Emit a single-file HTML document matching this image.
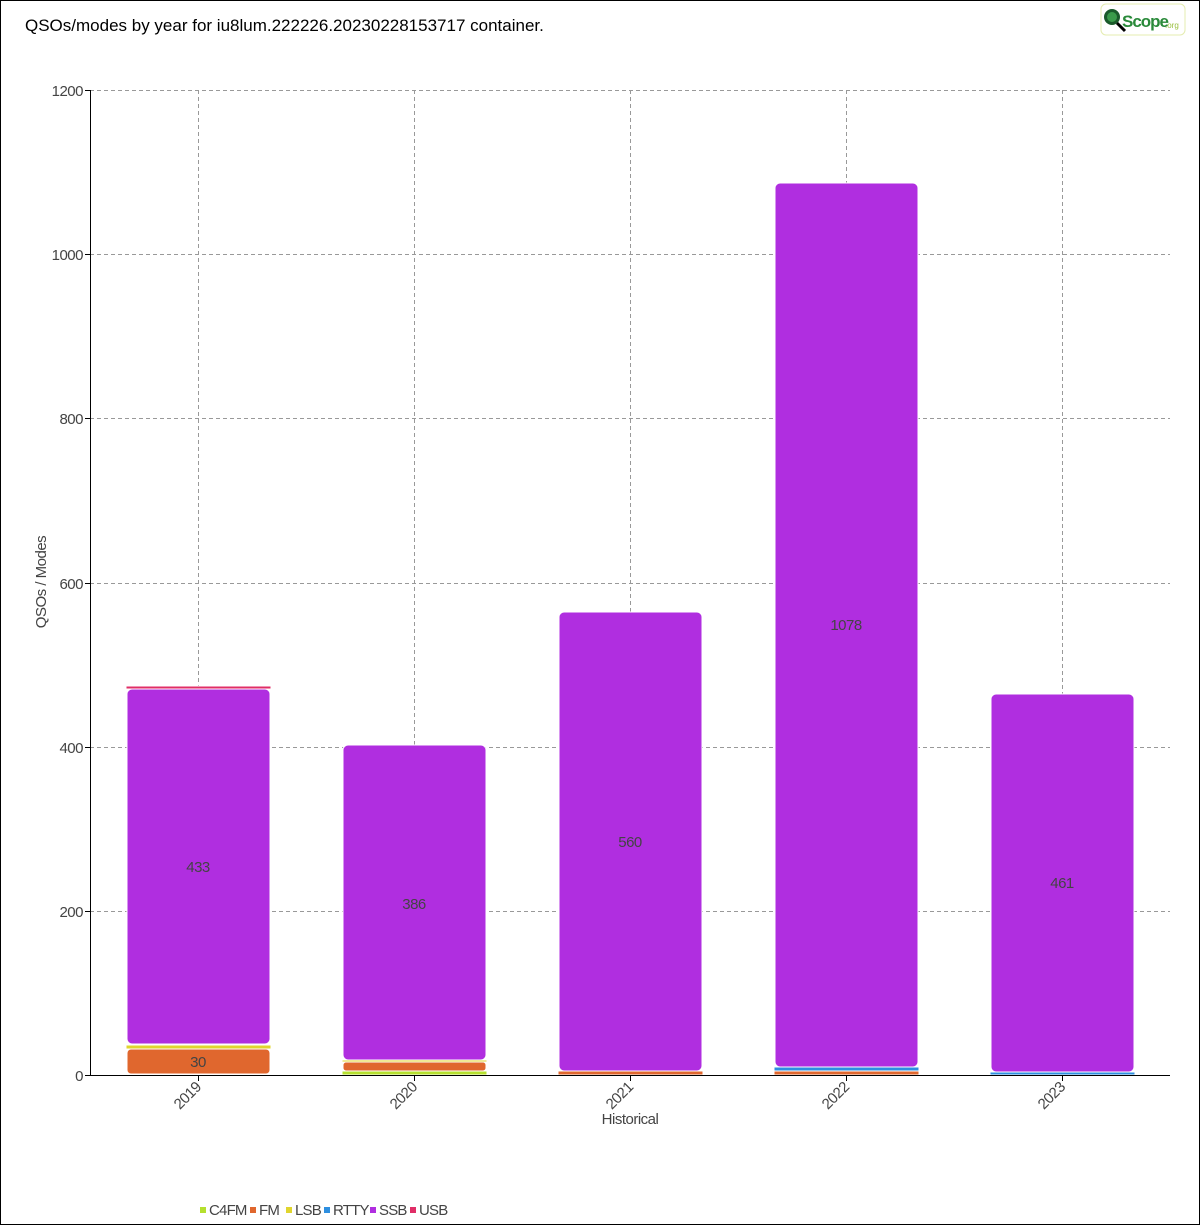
<!DOCTYPE html>
<html><head><meta charset="utf-8"><style>
html,body{margin:0;padding:0;background:#fff}
svg{display:block}
text{font-family:"Liberation Sans",sans-serif}
</style></head><body>
<svg width="1200" height="1225" viewBox="0 0 1200 1225" xmlns="http://www.w3.org/2000/svg">
<rect x="0.5" y="0.5" width="1199" height="1224" fill="#fff" stroke="#000"/>
<text x="25" y="31" font-size="17" fill="#000" letter-spacing="0">QSOs/modes by year for iu8lum.222226.20230228153717 container.</text>
<!-- logo -->
<rect x="1101" y="4" width="84" height="31" rx="5" fill="#fff" stroke="#e4ecb0"/>
<circle cx="1112" cy="17" r="8" fill="#1a5a2a"/>
<circle cx="1112" cy="17" r="5" fill="#3a9a4a"/>
<line x1="1117" y1="23" x2="1125" y2="31" stroke="#000" stroke-width="3"/>
<text x="1122" y="27" font-size="17" fill="#2a8a3a" font-weight="bold" letter-spacing="-1">Scope</text>
<text x="1165" y="28" font-size="8" fill="#9ac040">.org</text>
<!-- grid -->
<g stroke="#999" stroke-dasharray="4,3" stroke-width="1">
<line x1="90" y1="90.5" x2="1170" y2="90.5"/>
<line x1="90" y1="254.5" x2="1170" y2="254.5"/>
<line x1="90" y1="418.5" x2="1170" y2="418.5"/>
<line x1="90" y1="583.5" x2="1170" y2="583.5"/>
<line x1="90" y1="747.5" x2="1170" y2="747.5"/>
<line x1="90" y1="911.5" x2="1170" y2="911.5"/>
<line x1="198.5" y1="90" x2="198.5" y2="1075"/>
<line x1="414.5" y1="90" x2="414.5" y2="1075"/>
<line x1="630.5" y1="90" x2="630.5" y2="1075"/>
<line x1="846.5" y1="90" x2="846.5" y2="1075"/>
<line x1="1062.5" y1="90" x2="1062.5" y2="1075"/>
</g>
<!-- bars -->
<g stroke="#fff" stroke-width="1">
<rect x="127" y="1049" width="143" height="25" rx="4" fill="#e0672e"/>
<rect x="126" y="1045" width="145" height="4" fill="#e0d52e"/>
<rect x="127" y="689" width="143" height="355" rx="5" fill="#b02ee0"/>
<rect x="126" y="686" width="145" height="3" fill="#e02e67"/>
<rect x="342" y="1071" width="145" height="4" fill="#b5e02e"/>
<rect x="343" y="1062" width="143" height="9" rx="3" fill="#e0672e"/>
<rect x="342" y="1060" width="145" height="2" fill="#e0d52e"/>
<rect x="343" y="745" width="143" height="315" rx="5" fill="#b02ee0"/>
<rect x="558" y="1071" width="145" height="4" fill="#e0672e"/>
<rect x="559" y="612" width="143" height="459" rx="5" fill="#b02ee0"/>
<rect x="774" y="1071" width="145" height="4" fill="#e0672e"/>
<rect x="774" y="1067" width="145" height="4" fill="#2e8fe0"/>
<rect x="775" y="183" width="143" height="884" rx="5" fill="#b02ee0"/>
<rect x="990" y="1072" width="145" height="3" fill="#2e8fe0"/>
<rect x="991" y="694" width="143" height="378" rx="5" fill="#b02ee0"/>
</g>
<g font-size="15" fill="#444" text-anchor="middle" letter-spacing="-0.5">
<text x="198" y="1067">30</text>
<text x="198" y="872">433</text>
<text x="414" y="909">386</text>
<text x="630" y="847">560</text>
<text x="846" y="630">1078</text>
<text x="1062" y="888">461</text>
</g>
<!-- axes -->
<line x1="90.5" y1="90" x2="90.5" y2="1075" stroke="#000"/>
<line x1="85" y1="1075.5" x2="1170" y2="1075.5" stroke="#000"/>
<g stroke="#000">
<line x1="85" y1="90.5" x2="90" y2="90.5"/><line x1="85" y1="254.5" x2="90" y2="254.5"/>
<line x1="85" y1="418.5" x2="90" y2="418.5"/><line x1="85" y1="583.5" x2="90" y2="583.5"/>
<line x1="85" y1="747.5" x2="90" y2="747.5"/><line x1="85" y1="911.5" x2="90" y2="911.5"/>
<line x1="198.5" y1="1075" x2="198.5" y2="1081"/><line x1="414.5" y1="1075" x2="414.5" y2="1081"/>
<line x1="630.5" y1="1075" x2="630.5" y2="1081"/><line x1="846.5" y1="1075" x2="846.5" y2="1081"/>
<line x1="1062.5" y1="1075" x2="1062.5" y2="1081"/>
</g>
<g font-size="15" fill="#444" text-anchor="end" letter-spacing="-0.5">
<text x="83" y="96">1200</text><text x="83" y="260">1000</text><text x="83" y="424">800</text>
<text x="83" y="589">600</text><text x="83" y="753">400</text><text x="83" y="917">200</text>
<text x="83" y="1081">0</text>
</g>
<g font-size="15" fill="#444" text-anchor="end" letter-spacing="-0.5">
<text transform="translate(202,1088) rotate(-45)">2019</text>
<text transform="translate(418,1088) rotate(-45)">2020</text>
<text transform="translate(634,1088) rotate(-45)">2021</text>
<text transform="translate(850,1088) rotate(-45)">2022</text>
<text transform="translate(1066,1088) rotate(-45)">2023</text>
</g>
<text x="630" y="1124" font-size="15" fill="#444" text-anchor="middle" letter-spacing="-0.5">Historical</text>
<text transform="translate(46,582) rotate(-90)" font-size="15" fill="#444" text-anchor="middle" letter-spacing="-0.5">QSOs / Modes</text>
<!-- legend -->
<g font-size="15" fill="#444" letter-spacing="-0.8">
<rect x="200" y="1207" width="6" height="6" fill="#b5e02e"/><text x="209" y="1215">C4FM</text>
<rect x="250" y="1207" width="6" height="6" fill="#e0672e"/><text x="259" y="1215">FM</text>
<rect x="286" y="1207" width="6" height="6" fill="#e0d52e"/><text x="295" y="1215">LSB</text>
<rect x="324" y="1207" width="6" height="6" fill="#2e8fe0"/><text x="333" y="1215">RTTY</text>
<rect x="370" y="1207" width="6" height="6" fill="#b02ee0"/><text x="379" y="1215">SSB</text>
<rect x="410" y="1207" width="6" height="6" fill="#e02e67"/><text x="419" y="1215">USB</text>
</g>
</svg>
</body></html>
